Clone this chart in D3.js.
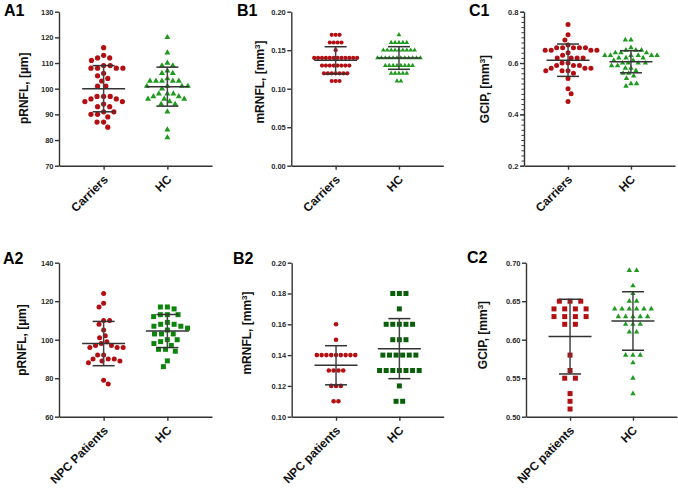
<!DOCTYPE html>
<html><head><meta charset="utf-8">
<script src="https://cdn.jsdelivr.net/npm/d3@7"></script>
<style>
body{margin:0;background:#fff}
svg{display:block}
text{font-family:"Liberation Sans",Arial,sans-serif}
</style>
</head><body>
<svg id="chart" width="678" height="488"></svg>
<script>
// ---------------- DATA ----------------
const A1_categories = ["Carriers", "HC"];
const A1_carriers = [116,113,112,112,111,109,109,108,108,108,108,106,105,104,103,101,101,97,97,97,96,96,95,95,94,93,93,91,91,90,90,89,87,87,85];
const A1_hc = [120,114,110,109,109,107,106,106,104,103,103,103,103,103,101,101,101,101,100,98,98,98,97,97,96,96,96,95,94,94,91,84,81];
const A1_mean = [100.0, 100.8];
const A1_sd = [9.0, 7.6];
const A1_ticks = [70,80,90,100,110,120,130];

const B1_categories = ["Carriers", "HC"];
const B1_carriers = [0.17,0.17,0.17,0.16,0.16,0.16,0.16,0.15,0.14,0.14,0.14,0.14,0.14,0.14,0.14,0.14,0.14,0.14,0.14,0.14,0.13,0.13,0.13,0.13,0.13,0.13,0.13,0.13,0.12,0.12,0.12,0.12,0.12,0.12,0.12,0.11,0.11,0.11];
const B1_hc = [0.17,0.16,0.16,0.16,0.16,0.16,0.15,0.15,0.15,0.15,0.15,0.15,0.15,0.15,0.15,0.14,0.14,0.14,0.14,0.14,0.14,0.14,0.14,0.14,0.14,0.14,0.14,0.13,0.13,0.13,0.13,0.13,0.13,0.13,0.13,0.12,0.12,0.12,0.12,0.12,0.11,0.11];
const B1_mean = [0.1368, 0.1399];
const B1_sd = [0.0177, 0.0147];
const B1_ticks = [0.00,0.05,0.10,0.15,0.20];

const C1_categories = ["Carriers", "HC"];
const C1_carriers = [0.75,0.71,0.69,0.67,0.66,0.66,0.66,0.66,0.66,0.65,0.65,0.65,0.65,0.64,0.63,0.62,0.62,0.62,0.62,0.60,0.60,0.59,0.59,0.59,0.58,0.58,0.58,0.57,0.57,0.57,0.56,0.54,0.50,0.48,0.45];
const C1_hc = [0.69,0.69,0.66,0.65,0.65,0.65,0.64,0.64,0.64,0.63,0.63,0.63,0.63,0.63,0.63,0.62,0.62,0.62,0.61,0.61,0.60,0.60,0.60,0.60,0.59,0.59,0.58,0.58,0.57,0.56,0.56,0.55,0.54,0.52,0.52,0.51];
const C1_mean = [0.611, 0.605];
const C1_sd = [0.063, 0.043];
const C1_ticks = [0.2,0.4,0.6,0.8];

const A2_categories = ["NPC Patients", "HC"];
const A2_npc = [124,119,117,110,110,108,105,102,101,99,98,97,97,96,96,96,92,92,90,90,90,89,89,88,79,77];
const A2_hc = [117,117,116,113,113,113,112,109,108,108,107,107,106,105,103,103,103,100,100,99,98,97,95,95,94,89,86];
const A2_mean = [98.0, 104.5];
const A2_sd = [11.5, 8.6];
const A2_ticks = [60,80,100,120,140];

const B2_categories = ["NPC patients", "HC"];
const B2_npc = [0.16,0.15,0.14,0.14,0.14,0.14,0.14,0.14,0.14,0.14,0.14,0.13,0.13,0.13,0.13,0.12,0.12,0.12,0.11,0.11];
const B2_hc = [0.18,0.18,0.18,0.17,0.16,0.16,0.16,0.16,0.16,0.15,0.15,0.15,0.14,0.14,0.14,0.14,0.14,0.14,0.13,0.13,0.13,0.13,0.13,0.13,0.13,0.12,0.11,0.11];
const B2_mean = [0.1334, 0.1442];
const B2_sd = [0.0127, 0.0195];
const B2_ticks = [0.10,0.12,0.14,0.16,0.18,0.20];

const C2_categories = ["NPC patients", "HC"];
const C2_npc = [0.65,0.65,0.65,0.64,0.64,0.64,0.64,0.63,0.63,0.63,0.63,0.62,0.62,0.58,0.56,0.55,0.55,0.53,0.52,0.51];
const C2_hc = [0.69,0.69,0.67,0.66,0.65,0.65,0.64,0.64,0.64,0.64,0.64,0.64,0.63,0.63,0.63,0.63,0.63,0.62,0.62,0.62,0.61,0.61,0.58,0.58,0.58,0.57,0.55,0.53];
const C2_mean = [0.604, 0.6243];
const C2_sd = [0.0485, 0.038];
const C2_ticks = [0.50,0.55,0.60,0.65,0.70];

// ---------------- STYLE / LAYOUT ----------------
const RED = "#b30f12", GREEN = "#1f9a1f", GREEN_SQ = "#0d850d", GREEN_DK = "#0b5f0b";
const AXIS = "#333";

const panels = [
  {label:"A1", lx:4, ly:16, left:59, top:11.7, bottom:165.7, width:153,
   cats:A1_categories, domain:[70,130], ticks:A1_ticks, fmt:d3.format("d"), minor:null,
   groups:[{values:A1_carriers, shape:"circle", color:RED, size:5.2, gap:6.6, layout:"bee"},
           {values:A1_hc, shape:"triangle", color:GREEN, size:6, gap:6.0, layout:"bee"}],
   mean:A1_mean, sd:A1_sd, title:{main:"pRNFL, [µm]"}, tx:23.3, ty:88.3},
  {label:"B1", lx:237, ly:16, left:291.3, top:11.7, bottom:165.7, width:152,
   cats:B1_categories, domain:[0,0.20], ticks:B1_ticks, fmt:d3.format(".2f"), minor:null,
   groups:[{values:B1_carriers, shape:"circle", color:RED, size:4.2, gap:3.9, layout:"rows"},
           {values:B1_hc, shape:"triangle", color:GREEN, size:4.8, gap:3.9, layout:"rows"}],
   mean:B1_mean, sd:B1_sd, title:{main:"mRNFL, [mm", sup:"3", tail:"]"}, tx:260, ty:82},
  {label:"C1", lx:469, ly:16, left:524, top:11.7, bottom:165.7, width:151,
   cats:C1_categories, domain:[0.2,0.8], ticks:C1_ticks, fmt:d3.format(".1f"), minor:d3.range(0.2,0.8001,0.02),
   groups:[{values:C1_carriers, shape:"circle", color:RED, size:5, gap:6.0, layout:"bee"},
           {values:C1_hc, shape:"triangle", color:GREEN, size:5.4, gap:5.6, layout:"bee"}],
   mean:C1_mean, sd:C1_sd, title:{main:"GCIP, [mm", sup:"3", tail:"]"}, tx:484.5, ty:89},
  {label:"A2", lx:3, ly:264, left:59, top:262.7, bottom:416.7, width:153,
   cats:A2_categories, domain:[60,140], ticks:A2_ticks, fmt:d3.format("d"), minor:null,
   groups:[{values:A2_npc, shape:"circle", color:RED, size:5, gap:6.0, layout:"bee"},
           {values:A2_hc, shape:"square", color:GREEN_SQ, size:5, gap:7.0, layout:"bee"}],
   mean:A2_mean, sd:A2_sd, title:{main:"pRNFL, [µm]"}, tx:21.7, ty:340},
  {label:"B2", lx:233, ly:264, left:291.7, top:262.7, bottom:416.7, width:152,
   cats:B2_categories, domain:[0.10,0.20], ticks:B2_ticks, fmt:d3.format(".2f"), minor:null,
   groups:[{values:B2_npc, shape:"circle", color:RED, size:4.6, gap:4.8, layout:"rows"},
           {values:B2_hc, shape:"square", color:GREEN_DK, size:5, gap:6.6, layout:"rows"}],
   mean:B2_mean, sd:B2_sd, title:{main:"mRNFL, [mm", sup:"3", tail:"]"}, tx:246.5, ty:333},
  {label:"C2", lx:467, ly:263, left:526, top:262.7, bottom:416.7, width:151,
   cats:C2_categories, domain:[0.50,0.70], ticks:C2_ticks, fmt:d3.format(".2f"), minor:null,
   groups:[{values:C2_npc, shape:"square", color:RED, size:5, gap:10.7, layout:"rows"},
           {values:C2_hc, shape:"triangle", color:GREEN, size:5.4, gap:7.3, layout:"rows"}],
   mean:C2_mean, sd:C2_sd, title:{main:"GCIP, [mm", sup:"3", tail:"]"}, tx:482.8, ty:335}
];

// ---------------- LAYOUT HELPERS ----------------
function beeswarm(vals, y, gap){
  const pts = vals.map(v => ({v, y:y(v), x:0})).sort((a,b) => a.y - b.y);
  const placed = []; let flip = 1;
  for (const p of pts){
    const iv = [];
    for (const q of placed){
      const dy = Math.abs(q.y - p.y);
      if (dy < gap){ const w = Math.sqrt(gap*gap - dy*dy); iv.push([q.x - w, q.x + w]); }
    }
    const cands = [0];
    iv.forEach(([a,b]) => cands.push(a, b));
    cands.sort((a,b) => (Math.abs(a) - Math.abs(b)) || (a - b) * flip);
    let chosen = 0;
    for (const c of cands){
      if (iv.every(([a,b]) => c <= a + 1e-6 || c >= b - 1e-6)){ chosen = c; break; }
    }
    if (chosen !== 0) flip = -flip;
    p.x = chosen; placed.push(p);
  }
  return pts;
}
function rowsLayout(vals, y, gap){
  const out = [];
  for (const [v, arr] of d3.group(vals, d => d)){
    arr.forEach((_, i) => out.push({v, y:y(v), x:(i - (arr.length - 1)/2) * gap}));
  }
  return out;
}
function symbolFor(shape, size){
  if (shape === "circle") return d3.symbol().type(d3.symbolCircle).size(Math.PI * (size/2) ** 2);
  if (shape === "square") return d3.symbol().type(d3.symbolSquare).size(size * size);
  return d3.symbol().type(d3.symbolTriangle).size(Math.sqrt(3)/4 * size * size);
}

// ---------------- DRAW ----------------
const svg = d3.select("#chart");
svg.append("rect").attr("width",678).attr("height",488).attr("fill","#fff");

panels.forEach(P => {
  const g = svg.append("g");
  const x = d3.scalePoint().domain(P.cats).range([P.left, P.left + P.width]).padding(0.7);
  const y = d3.scaleLinear().domain(P.domain).range([P.bottom, P.top]);

  if (P.minor){
    const mg = g.append("g").attr("transform", `translate(${P.left},0)`)
      .call(d3.axisLeft(y).tickValues(P.minor).tickSize(2.5).tickSizeOuter(0).tickFormat(""));
    mg.select(".domain").remove();
    mg.selectAll(".tick line").attr("stroke", AXIS).attr("stroke-width", 1);
  }
  const ya = g.append("g").attr("transform", `translate(${P.left},0)`)
    .call(d3.axisLeft(y).tickValues(P.ticks).tickFormat(P.fmt).tickSize(4).tickSizeOuter(0).tickPadding(1.5));
  ya.selectAll(".domain, .tick line").attr("stroke", AXIS).attr("stroke-width", 1.4);
  ya.selectAll(".tick text").attr("font-size", 7.5).attr("font-weight", "bold").attr("fill", "#2a2a2a")
    .attr("font-family", "'Liberation Sans', Arial, sans-serif");

  const xa = g.append("g").attr("transform", `translate(0,${P.bottom})`)
    .call(d3.axisBottom(x).tickSize(4).tickSizeOuter(0));
  xa.selectAll(".domain, .tick line").attr("stroke", AXIS).attr("stroke-width", 1.4);
  xa.selectAll(".tick text")
    .attr("x", 0).attr("y", 0).attr("dy", 0)
    .attr("transform", "translate(4.5,14.5) rotate(-45)")
    .attr("text-anchor", "end")
    .attr("font-size", 12).attr("font-weight", "bold").attr("fill", "#111")
    .attr("font-family", "'Liberation Sans', Arial, sans-serif");

  P.groups.forEach((G, gi) => {
    const cx = x(P.cats[gi]);
    const pts = G.layout === "bee" ? beeswarm(G.values, y, G.gap) : rowsLayout(G.values, y, G.gap);
    const sym = symbolFor(G.shape, G.size);
    g.append("g").selectAll("path").data(pts).join("path")
      .attr("d", sym)
      .attr("transform", d => `translate(${cx + d.x},${d.y})`)
      .attr("fill", G.color);
  });

  P.cats.forEach((c, i) => {
    const cx = x(c);
    const m = P.mean[i], s = P.sd[i];
    const lg = g.append("g").attr("stroke", "#333").attr("stroke-width", 1.5).attr("fill", "none");
    lg.append("line").attr("x1", cx).attr("x2", cx).attr("y1", y(m + s)).attr("y2", y(m - s)).attr("stroke", "#444");
    lg.append("line").attr("x1", cx - 21.5).attr("x2", cx + 21.5).attr("y1", y(m)).attr("y2", y(m));
    [m + s, m - s].forEach(v => lg.append("line").attr("x1", cx - 11).attr("x2", cx + 11).attr("y1", y(v)).attr("y2", y(v)));
  });

  const t = g.append("text")
    .attr("transform", `translate(${P.tx},${P.ty}) rotate(-90)`)
    .attr("text-anchor", "middle").attr("dy", "0.35em")
    .attr("font-size", 12).attr("font-weight", "bold").attr("fill", "#111");
  t.append("tspan").text(P.title.main);
  if (P.title.sup){
    t.append("tspan").attr("baseline-shift", "super").attr("font-size", 8).text(P.title.sup);
    t.append("tspan").text(P.title.tail);
  }

  g.append("text").attr("x", P.lx).attr("y", P.ly)
    .attr("font-size", 16).attr("font-weight", "bold").attr("fill", "#000").text(P.label);
});
</script>
</body></html>
